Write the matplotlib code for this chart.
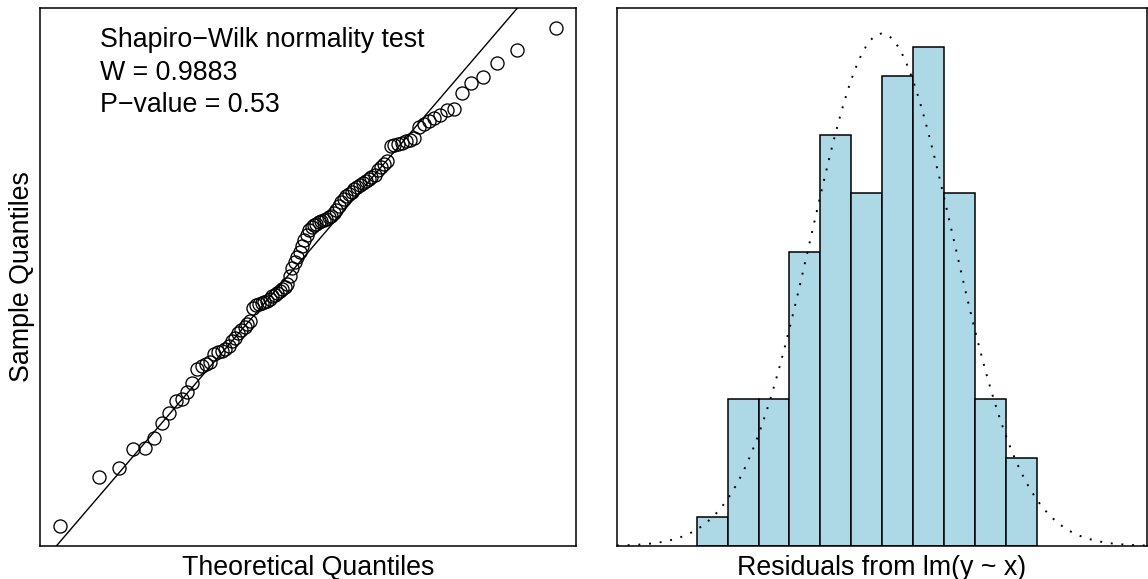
from statistics import NormalDist

import numpy as np
import matplotlib
matplotlib.use("Agg")
import matplotlib.pyplot as plt

plt.rcParams['font.family'] = ['Liberation Sans', 'DejaVu Sans']

# sorted residuals from lm(y ~ x)
resid = [
    -2.967, -2.435, -2.337, -2.141, -2.130, -2.022, -1.859, -1.750, -1.620, -1.598,
    -1.522, -1.424, -1.272, -1.239, -1.217, -1.196, -1.109, -1.087, -1.076, -1.054,
    -1.022, -0.967, -0.935, -0.891, -0.859, -0.826, -0.793, -0.761, -0.620, -0.587,
    -0.576, -0.565, -0.554, -0.538, -0.522, -0.489, -0.478, -0.457, -0.435, -0.413,
    -0.391, -0.359, -0.272, -0.185, -0.120, -0.065, -0.011, 0.054, 0.120, 0.174,
    0.228, 0.261, 0.283, 0.293, 0.310, 0.326, 0.337, 0.348, 0.359, 0.380,
    0.402, 0.435, 0.478, 0.522, 0.554, 0.587, 0.609, 0.630, 0.663, 0.685,
    0.707, 0.728, 0.750, 0.772, 0.793, 0.821, 0.870, 0.902, 0.935, 0.967,
    1.130, 1.141, 1.152, 1.163, 1.185, 1.196, 1.217, 1.337, 1.370, 1.402,
    1.435, 1.467, 1.522, 1.533, 1.696, 1.804, 1.870, 2.022, 2.163, 2.402,
]
breaks = [-3.0, -2.5, -2.0, -1.5, -1.0, -0.5, 0.0, 0.5, 1.0, 1.5, 2.0, 2.5]
sw_lines = ["Shapiro\u2212Wilk normality test", "W = 0.9883", "P\u2212value = 0.53"]

FS = 19.3

y = np.sort(np.array(resid))
n = len(y)
# theoretical quantiles as in qqnorm (ppoints, a = 0.5)
nd = NormalDist()
theo = np.array([nd.inv_cdf((i - 0.5) / n) for i in range(1, n + 1)])

W, H = 1148, 579
fig = plt.figure(figsize=(W / 100, H / 100), dpi=100)
ax1 = fig.add_axes([40 / W, 33 / H, 536 / W, 538 / H])
ax2 = fig.add_axes([617 / W, 33 / H, 530 / W, 538 / H])

for ax in (ax1, ax2):
    for s in ax.spines.values():
        s.set_linewidth(1.1)
    ax.set_xticks([])
    ax.set_yticks([])

# --- QQ plot ---
ax1.plot(theo, y, 'o', mfc='none', mec='black', ms=9.4, mew=0.95)
q25, q75 = np.quantile(y, [0.25, 0.75])
z25, z75 = nd.inv_cdf(0.25), nd.inv_cdf(0.75)
slope = (q75 - q25) / (z75 - z25)
icpt = q25 - slope * z25
ax1.axline((0, icpt), slope=slope, color='black', lw=1.0)
ax1.margins(0.04)
ax1.set_xlabel("Theoretical Quantiles", fontsize=FS, labelpad=6.5)
ax1.set_ylabel("Sample Quantiles", fontsize=FS, labelpad=3.5)
for k, line in enumerate(sw_lines):
    ax1.text(0.112, 0.9405 - k * 0.0604, line, transform=ax1.transAxes,
             fontsize=FS, va='center', ha='left')

# --- histogram with normal density ---
ax2.hist(y, bins=breaks, density=True, color='#ADD8E6', edgecolor='black', lw=1.1)
mu, sd = y.mean(), y.std(ddof=1)
xs = np.linspace(mu - 3.75 * sd, mu + 3.75 * sd, 400)
dens = np.exp(-0.5 * ((xs - mu) / sd) ** 2) / (sd * np.sqrt(2 * np.pi))
ax2.plot(xs, dens, color='black', lw=1.4, linestyle=(0, (1, 4.5)))
ax2.set_xlim(xs[0], xs[-1])
ax2.set_ylim(0, 1.05 * dens.max())
ax2.set_xlabel("Residuals from lm(y ~ x)", fontsize=FS, labelpad=6.5)

fig.savefig("out.png", dpi=100)
